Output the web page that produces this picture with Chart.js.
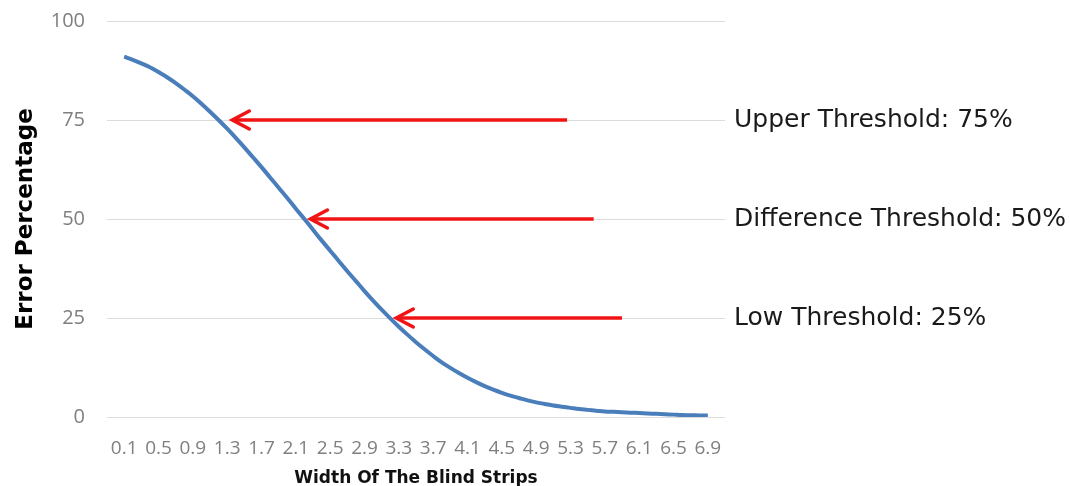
<!DOCTYPE html>
<html>
<head>
<meta charset="utf-8">
<script src="https://cdn.jsdelivr.net/npm/chart.js@4/dist/chart.umd.min.js"></script>
<style>
  body { margin: 0; background: #fff; }
</style>
</head>
<body>
<canvas id="myChart" width="1070" height="486"></canvas>
<script>
// blind strip width (0.1 step) and error percentage
var widths = [0.1, 0.2, 0.3, 0.4, 0.5, 0.6, 0.7, 0.8, 0.9, 1.0,
              1.1, 1.2, 1.3, 1.4, 1.5, 1.6, 1.7, 1.8, 1.9, 2.0,
              2.1, 2.2, 2.3, 2.4, 2.5, 2.6, 2.7, 2.8, 2.9, 3.0,
              3.1, 3.2, 3.3, 3.4, 3.5, 3.6, 3.7, 3.8, 3.9, 4.0,
              4.1, 4.2, 4.3, 4.4, 4.5, 4.6, 4.7, 4.8, 4.9, 5.0,
              5.1, 5.2, 5.3, 5.4, 5.5, 5.6, 5.7, 5.8, 5.9, 6.0,
              6.1, 6.2, 6.3, 6.4, 6.5, 6.6, 6.7, 6.8, 6.9];
var errors = [91.0, 90.2, 89.3, 88.3, 87.1, 85.8, 84.3, 82.7, 81.0, 79.1,
              77.1, 75.0, 72.8, 70.5, 68.1, 65.6, 63.1, 60.5, 57.9, 55.3,
              52.6, 50.0, 47.3, 44.6, 42.0, 39.4, 36.8, 34.3, 31.8, 29.4,
              27.1, 24.9, 22.8, 20.8, 18.9, 17.1, 15.4, 13.8, 12.4, 11.1,
              9.9, 8.8, 7.8, 6.9, 6.1, 5.4, 4.8, 4.2, 3.7, 3.3,
              2.9, 2.6, 2.3, 2.0, 1.8, 1.6, 1.4, 1.3, 1.2, 1.1,
              1.0, 0.9, 0.8, 0.7, 0.6, 0.5, 0.45, 0.4, 0.35];
var xTicks = [0.1, 0.5, 0.9, 1.3, 1.7, 2.1, 2.5, 2.9, 3.3, 3.7, 4.1, 4.5, 4.9, 5.3, 5.7, 6.1, 6.5, 6.9];
var yTicks = [0, 25, 50, 75, 100];

// threshold arrows (y value, arrow tail and tip on the x axis)
var thresholds = [75, 50, 25];
var thresholdLabels = ['Upper Threshold: 75%', 'Difference Threshold: 50%', 'Low Threshold: 25%'];
var arrowTail = [5.26, 5.57, 5.9];
var arrowTip = [1.36, 2.27, 3.27];

var points = widths.map(function(w, i) { return {x: w, y: errors[i]}; });

// draws the red arrows and the text to the right of the plot
var thresholdPlugin = {
    id: 'thresholds',
    afterDatasetsDraw: function(chart) {
        var ctx = chart.ctx;
        var xs = chart.scales.x;
        var ys = chart.scales.y;
        ctx.save();
        for (var i = 0; i < thresholds.length; i++) {
            var y = ys.getPixelForValue(thresholds[i]);
            var x1 = xs.getPixelForValue(arrowTail[i]);
            var x2 = xs.getPixelForValue(arrowTip[i]);
            ctx.strokeStyle = '#f01414';
            ctx.lineWidth = 3.5;
            ctx.lineCap = 'butt';
            ctx.beginPath();
            ctx.moveTo(x1, y);
            ctx.lineTo(x2 + 2, y);
            ctx.stroke();
            ctx.lineCap = 'round';
            ctx.beginPath();
            ctx.moveTo(x2 + 17, y - 9);
            ctx.lineTo(x2, y);
            ctx.lineTo(x2 + 17, y + 9);
            ctx.stroke();

            ctx.fillStyle = '#1a1a1a';
            ctx.font = '25px "DejaVu Sans"';
            ctx.textAlign = 'left';
            ctx.textBaseline = 'middle';
            ctx.fillText(thresholdLabels[i], chart.chartArea.right + 9, y);
        }
        ctx.restore();
    }
};

var ctx = document.getElementById('myChart').getContext('2d');
var chart = new Chart(ctx, {
    type: 'line',
    data: {
        datasets: [{
            label: 'Error Percentage',
            data: points,
            borderColor: '#4a7ebb',
            borderWidth: 4,
            pointRadius: 0,
            tension: 0.4,
            fill: false
        }]
    },
    options: {
        responsive: false,
        animation: false,
        layout: { padding: { top: 21, right: 345, bottom: 0, left: 0 } },
        plugins: {
            legend: { display: false },
            tooltip: { enabled: false }
        },
        scales: {
            x: {
                type: 'linear',
                min: -0.1,
                max: 7.1,
                afterBuildTicks: function(scale) {
                    scale.ticks = xTicks.map(function(v) { return {value: v}; });
                },
                afterFit: function(scale) { scale.height = 69; },
                grid: { display: false },
                border: { display: false },
                ticks: {
                    autoSkip: false,
                    maxRotation: 0,
                    padding: 12,
                    color: '#7f7f7f',
                    font: { family: '"Open Sans"', size: 19 },
                    callback: function(v) { return v.toFixed(1); }
                },
                title: {
                    display: true,
                    text: 'Width Of The Blind Strips',
                    color: '#111',
                    font: { family: '"DejaVu Sans"', size: 17, weight: 'bold' },
                    padding: { top: 0, bottom: -3 }
                }
            },
            y: {
                min: 0,
                max: 100,
                afterBuildTicks: function(scale) {
                    scale.ticks = yTicks.map(function(v) { return {value: v}; });
                },
                afterFit: function(scale) {
                    scale.width = 107;
                    scale.paddingTop = 0;
                    scale.paddingBottom = 0;
                },
                grid: { color: '#dcdcdc', lineWidth: 1, drawTicks: false },
                border: { display: false },
                ticks: {
                    padding: 22,
                    color: '#7f7f7f',
                    font: { family: '"Open Sans"', size: 20 }
                },
                title: {
                    display: true,
                    text: 'Error Percentage',
                    color: '#000',
                    font: { family: '"DejaVu Sans"', size: 23, weight: 'bold' },
                    padding: { top: 12, bottom: 0 }
                }
            }
        }
    },
    plugins: [thresholdPlugin]
});
</script>
</body>
</html>
